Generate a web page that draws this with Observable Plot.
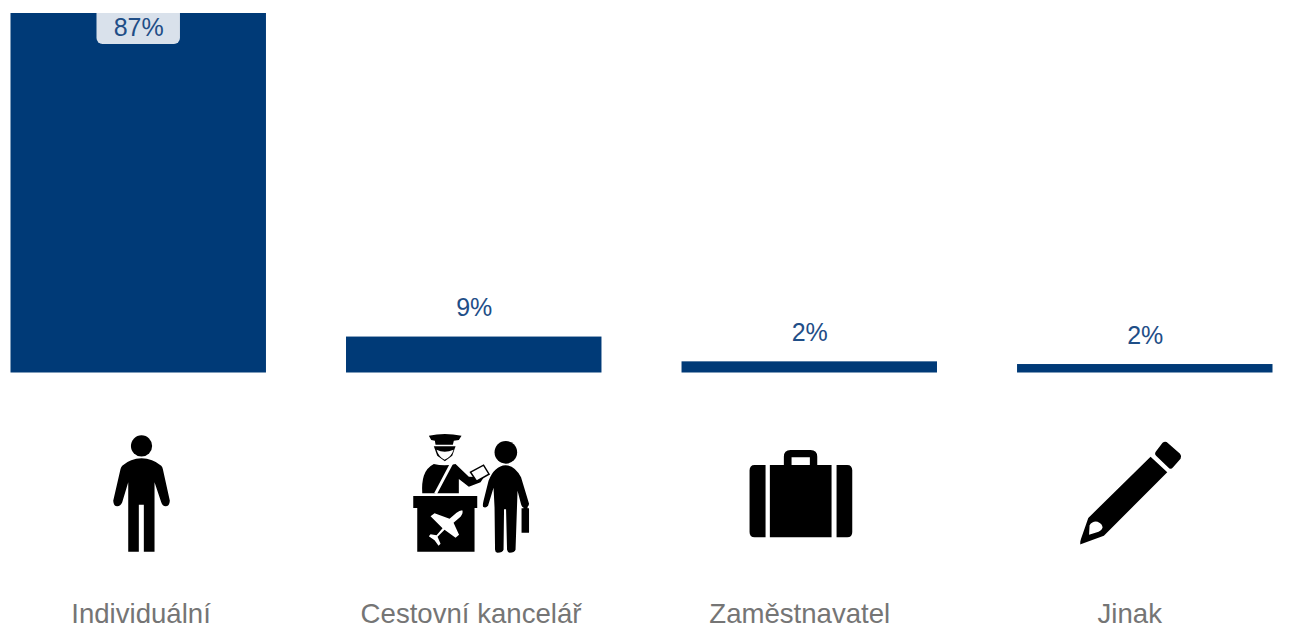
<!DOCTYPE html>
<html lang="cs">
<head>
<meta charset="utf-8">
<script src="https://cdn.jsdelivr.net/npm/d3@7"></script>
<script src="https://cdn.jsdelivr.net/npm/@observablehq/plot@0.6"></script>
<style>
html,body{margin:0;padding:0;background:#fff;overflow:hidden}
svg{display:block}
</style>
</head>
<body>
<div id="chart"></div>
<script>
const categories = ["Individuální", "Cestovní kancelář", "Zaměstnavatel", "Jinak"];
const barValues = [87, 8.7, 2.7, 2.05];
const labelTexts = ["87%", "9%", "2%", "2%"];

// Pictograms, each a 130-unit-square symbol placed through the scales by Plot.image.
const iconSymbols = [
  {box: "73.200 428", body: `<circle cx="141" cy="445.3" r="10.6"/>
    <path d="M121.7 465Q130 458 141 457.7Q152 458 160.7 465Q162 466.5 162.3 468.3L169.3 500Q169 505.5 165 505.7Q162 505.5 160.7 501.7L154 481.7V551H143.3V504H138.3V551H127.7V481.7L121.7 501.7Q120 505.5 116.7 505.7Q113 505.5 112.7 500L120 468.3Q120.5 466.5 121.7 465Z"/>`},
  {box: "408.700 428", body: `
    <path d="M428.300 435Q444 431.500 461 435L458.300 439.300L453.300 440L452.300 444H435L434.300 440L430.700 439.300Z"/>
    <path d="M433.300 445.500H455L451.700 455L444.300 460.700L436.700 455Z"/>
    <path d="M436 449Q444 453 453 449Q451 456 444 459Q438 456 436 449Z" fill="#fff"/>
    <path d="M421.700 492.700Q421 482 423.300 475Q426 467 433.300 463.300Q444 466 455 463.300L468.300 476L483.300 476.700L480 481.700L468.300 486L458.300 478.300V492.700Z"/>
    <path d="M451.500 462L435 493" fill="none" stroke="#fff" stroke-width="3"/>
    <path d="M470 471.5L483 464.5L488.500 473.500L476 480.5Z" fill="#fff" stroke="#000" stroke-width="1.5"/>
    <path d="M412.700 495.300H476.700V507.300H474V551H416.700V507.300H412.700Z"/>
    <path d="M461.700 509.500Q463 512 460 516L453 522L458.500 534L455 537L444 529L437 536L440 543L438 545L434 539.500L428.300 535.500L430 533.500L436 534.500L442 527.500L430 515.500L434 512.500L449 518L456 512Q459 509.500 461.700 509.500Z" fill="#fff"/>
    <circle cx="505.300" cy="451.700" r="11.300"/>
    <path d="M505 464.500Q514 464.500 520.500 476.500L528.500 503Q528 507 524 507Q521.500 507 520.500 503.500L517 490L515 549Q514 552 509 552Q507 551.500 506.500 549L505.500 508.500H503.500L503 549Q502 552 497 552Q494.500 551.500 494.500 549L494 507L493 487L487.500 505Q485 508 482.500 506Q482 504 483 500L488 480Q494 465 505 464.500Z"/>
    <path d="M521 507.500H523V506H527V507.500H528.500V532H521Z"/>`},
  {box: "744.200 428", body: `
    <path d="M754 464.300H765V536.700H754Q749 536.700 749 531V470Q749 464.300 754 464.300Z"/>
    <path d="M769.300 464.300H783.300V456Q783.300 449.300 790 449.300H810Q816.700 449.300 816.700 456V464.300H831V536.700H769.300ZM791 456.700V464.300H809.300V456.700Z" fill-rule="evenodd"/>
    <path d="M836 464.300H846.700Q851.700 464.300 851.700 470V531Q851.700 536.700 846.700 536.700H836Z"/>`},
  {box: "1079.700 428", body: `
    <path d="M1162 442Q1165 440 1167.500 442.500L1179.500 453Q1181.500 455.500 1180 458L1172.500 466.500Q1170 469.500 1167.500 466.500L1155.500 455Q1153.500 453 1155.500 450.500Z"/>
    <path fill-rule="evenodd" d="M1150 456L1166.700 471.700L1103.300 535L1078.300 544.300L1087.700 517.300ZM1088.500 534L1089 524.500Q1092 520 1097 521Q1102 523 1102 527Q1101 530 1098 531Z"/>`}
];
const iconSrc = (s) => "data:image/svg+xml," + encodeURIComponent(
  `<svg xmlns="http://www.w3.org/2000/svg" viewBox="${s.box} 130 130" width="130" height="130">${s.body}</svg>`);

const rows = categories.map((category, i) => ({
  category, value: barValues[i], label: labelTexts[i], src: iconSrc(iconSymbols[i])
}));

const barColor = "#003a77";
const valueColor = "#1f4e87";
const iconLevel = -29.2;
// The category captions sit on a slightly narrower spacing than the bars.
const captionShift = [2.3, -3.2, -10, -15.5];

const chart = Plot.plot({
  width: 1294,
  height: 629,
  marginTop: 13,
  marginLeft: 10.5,
  marginRight: 21.5,
  marginBottom: 29,
  style: {background: "#fff", fontFamily: "'Liberation Sans', Arial, sans-serif"},
  x: {domain: categories, paddingInner: 0.2386, paddingOuter: 0, align: 0.5, round: false, label: null},
  y: {domain: [0, 87], range: [372.5, 13], axis: null},
  marks: [
    Plot.barY(rows, {x: "category", y: "value", fill: barColor}),
    Plot.barY(rows.filter(d => d.value > 50), {
      x: "category", y1: d => d.value - 7.5, y2: d => d.value + 6,
      insetLeft: 86, insetRight: 86, rx: 6, fill: "#d9e1eb", clip: "frame"
    }),
    Plot.text(rows.filter(d => d.value > 50), {
      x: "category", y: "value", text: "label", dy: 14, fontSize: 25, fill: valueColor
    }),
    Plot.text(rows.filter(d => d.value <= 50), {
      x: "category", y: "value", text: "label", dy: -29, fontSize: 25, fill: valueColor
    }),
    Plot.image(rows, {x: "category", y: () => iconLevel, src: "src", width: 130, height: 130}),
    ...categories.map((category, i) => Plot.axisX([category], {
      tickSize: 0, tickPadding: 2.5, fontSize: 27.6, color: "#757575",
      label: null, lineAnchor: "top", dx: captionShift[i]
    }))
  ]
});
document.getElementById("chart").appendChild(chart);
</script>
</body>
</html>
